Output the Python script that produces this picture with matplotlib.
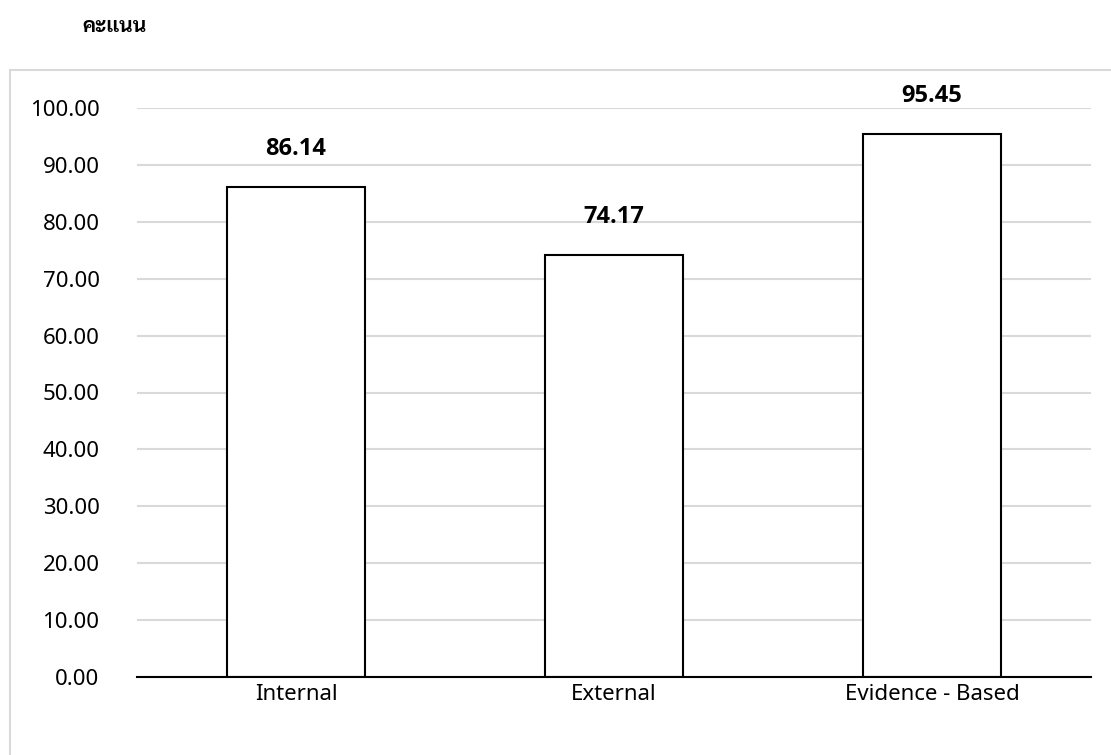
import matplotlib
matplotlib.use("Agg")
import matplotlib.pyplot as plt
from matplotlib.patches import Rectangle

categories = ["Internal", "External", "Evidence - Based"]
values = [86.14, 74.17, 95.45]
yticks = [0, 10, 20, 30, 40, 50, 60, 70, 80, 90, 100]
ylabel = "คะแนน"

FAM = ["Noto Sans", "Sarabun", "DejaVu Sans"]
plt.rcParams["font.family"] = FAM

fig = plt.figure(figsize=(11.11, 7.55), dpi=100)
ax = fig.add_axes([137/1111, 1-677/755, (1091-137)/1111, (677-108)/755])
x = list(range(len(categories)))
ax.bar(x, values, width=0.434, color="white", edgecolor="black", linewidth=1.5, zorder=3)
for xi, v in zip(x, values):
    ax.text(xi, v + 6.6, f"{v:.2f}", ha="center", va="center", fontsize=17,
            fontweight="bold", clip_on=False, family=["Open Sans", "DejaVu Sans"])
ax.set_xlim(-0.5, 2.5)
ax.set_ylim(0, 100)
ax.set_yticks(yticks)
ax.set_yticklabels([f"{t:.2f}" for t in yticks], fontsize=16)
ax.set_xticks(x)
ax.set_xticklabels(categories, fontsize=16)
ax.grid(axis="y", color="#d9d9d9", linewidth=1.5, zorder=0)
for s in ["top", "right", "left"]:
    ax.spines[s].set_visible(False)
ax.spines["bottom"].set_linewidth(1.5)
ax.spines["bottom"].set_zorder(4)
ax.tick_params(axis="y", length=0, pad=27)
ax.tick_params(axis="x", length=0, pad=5)
fig.text(82/1111, 1-27/755, ylabel, fontsize=15, fontweight="bold", va="center",
         family=["Sarabun", "DejaVu Sans"])
fig.add_artist(Rectangle((10/1111, -0.01), 1.1, 1-70/755+0.01, transform=fig.transFigure,
                         fill=False, edgecolor="#d9d9d9", linewidth=1.5))
fig.savefig("out.png", dpi=100)
